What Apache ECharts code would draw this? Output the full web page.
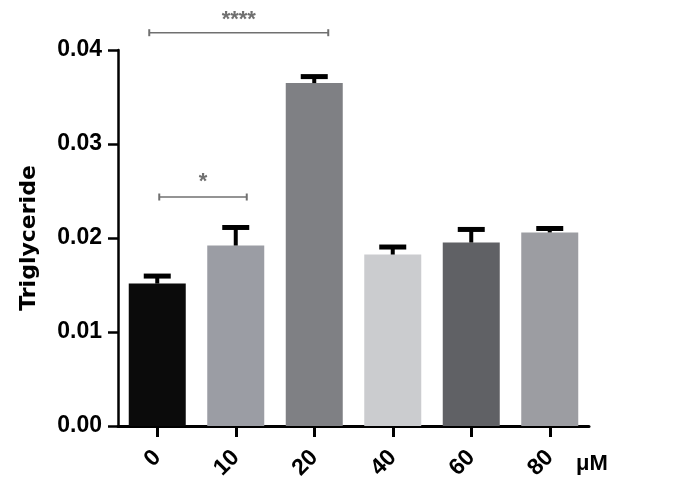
<!DOCTYPE html>
<html><head><meta charset="utf-8">
<script src="https://cdn.jsdelivr.net/npm/echarts@6/dist/echarts.min.js"></script>
<style>html,body{margin:0;padding:0;background:#fff}#c{width:682px;height:497px}</style>
</head><body><div id="c"></div>
<script>
const categories = ['0', '10', '20', '40', '60', '80'];
const means = [0.01515, 0.0192, 0.03648, 0.01824, 0.01952, 0.02059];
const errTops = [0.01595, 0.02112, 0.03717, 0.01904, 0.02091, 0.02101];
const barColors = ['#0b0b0b', '#9b9da4', '#7f8084', '#cbcccf', '#606165', '#9c9da2'];
const yTicks = [0, 0.01, 0.02, 0.03, 0.04];
const sigFrom = [0, 0];
const sigTo = [2, 1];
const sigLevel = [0.04184, 0.02436];
const sigText = ['****', '*'];
const unitLabel = 'μM';
const yTitle = 'Triglyceride';

// style-only pixel offsets for bracket ends
const bracketOffsets = [[-8, 14], [2, 11]];

const chart = echarts.init(document.getElementById('c'), null, {renderer: 'canvas'});
const FONT = '"Liberation Sans", Arial, sans-serif';

const option = {
  animation: false,
  backgroundColor: '#fff',
  grid: {left: 118, right: 93, top: 50, bottom: 71, containLabel: false},
  xAxis: {
    type: 'category',
    data: categories,
    boundaryGap: true,
    axisLine: {show: true, lineStyle: {color: '#000', width: 3}},
    axisTick: {show: true, alignWithLabel: true, length: 11, lineStyle: {color: '#000', width: 3}},
    axisLabel: {rotate: 45, margin: 28, color: '#000', fontFamily: FONT, fontWeight: 'bold', fontSize: 23},
    splitLine: {show: false}
  },
  yAxis: {
    type: 'value',
    min: yTicks[0],
    max: yTicks[yTicks.length - 1],
    interval: yTicks[1] - yTicks[0],
    name: yTitle,
    nameLocation: 'middle',
    nameRotate: 90,
    nameGap: 78,
    nameTextStyle: {color: '#000', fontFamily: '"DejaVu Sans", sans-serif', fontWeight: 'bold', fontSize: 22},
    axisLine: {show: true, lineStyle: {color: '#000', width: 2.5}},
    axisTick: {show: true, length: 10, lineStyle: {color: '#000', width: 2.5}},
    axisLabel: {margin: 16, color: '#000', fontFamily: FONT, fontWeight: 'bold', fontSize: 23,
      formatter: v => v.toFixed(2)},
    splitLine: {show: false}
  },
  graphic: [{
    type: 'text', left: 576, top: 453,
    style: {text: unitLabel, fill: '#000', font: 'bold 22px "Liberation Sans", Arial, sans-serif'}
  }],
  series: [
    {
      type: 'bar',
      barWidth: 57,
      data: means.map((v, i) => ({value: v, itemStyle: {color: barColors[i]}})),
      z: 2
    },
    {
      type: 'custom',
      z: 3,
      data: means.map((v, i) => [i, v, errTops[i]]),
      renderItem: function (params, api) {
        const base = api.coord([api.value(0), api.value(1)]);
        const top = api.coord([api.value(0), api.value(2)]);
        const hw = 13.5;
        return {
          type: 'group',
          children: [
            {type: 'line', shape: {x1: base[0], y1: base[1], x2: top[0], y2: top[1]},
              style: {stroke: '#000', lineWidth: 4}},
            {type: 'line', shape: {x1: top[0] - hw, y1: top[1], x2: top[0] + hw, y2: top[1]},
              style: {stroke: '#000', lineWidth: 5}}
          ]
        };
      }
    },
    {
      type: 'custom',
      z: 4,
      clip: false,
      data: sigFrom.map((f, i) => [f, sigTo[i], sigLevel[i], i]),
      renderItem: function (params, api) {
        const idx = api.value(3);
        const a = api.coord([api.value(0), api.value(2)]);
        const b = api.coord([api.value(1), api.value(2)]);
        const off = bracketOffsets[idx];
        const x1 = a[0] + off[0], x2 = b[0] + off[1], y = a[1];
        const col = '#707070';
        return {
          type: 'group',
          children: [
            {type: 'line', shape: {x1: x1, y1: y, x2: x2, y2: y}, style: {stroke: col, lineWidth: 1.6}},
            {type: 'line', shape: {x1: x1, y1: y - 3.5, x2: x1, y2: y + 3.5}, style: {stroke: col, lineWidth: 2}},
            {type: 'line', shape: {x1: x2, y1: y - 3.5, x2: x2, y2: y + 3.5}, style: {stroke: col, lineWidth: 2}},
            {type: 'text', style: {x: (x1 + x2) / 2, y: y - (idx === 0 ? 2 : 4), text: sigText[idx], fill: col,
              font: 'bold 22px "Liberation Sans", Arial, sans-serif', align: 'center', verticalAlign: 'bottom'}}
          ]
        };
      }
    }
  ]
};
chart.setOption(option);
</script>
</body></html>
